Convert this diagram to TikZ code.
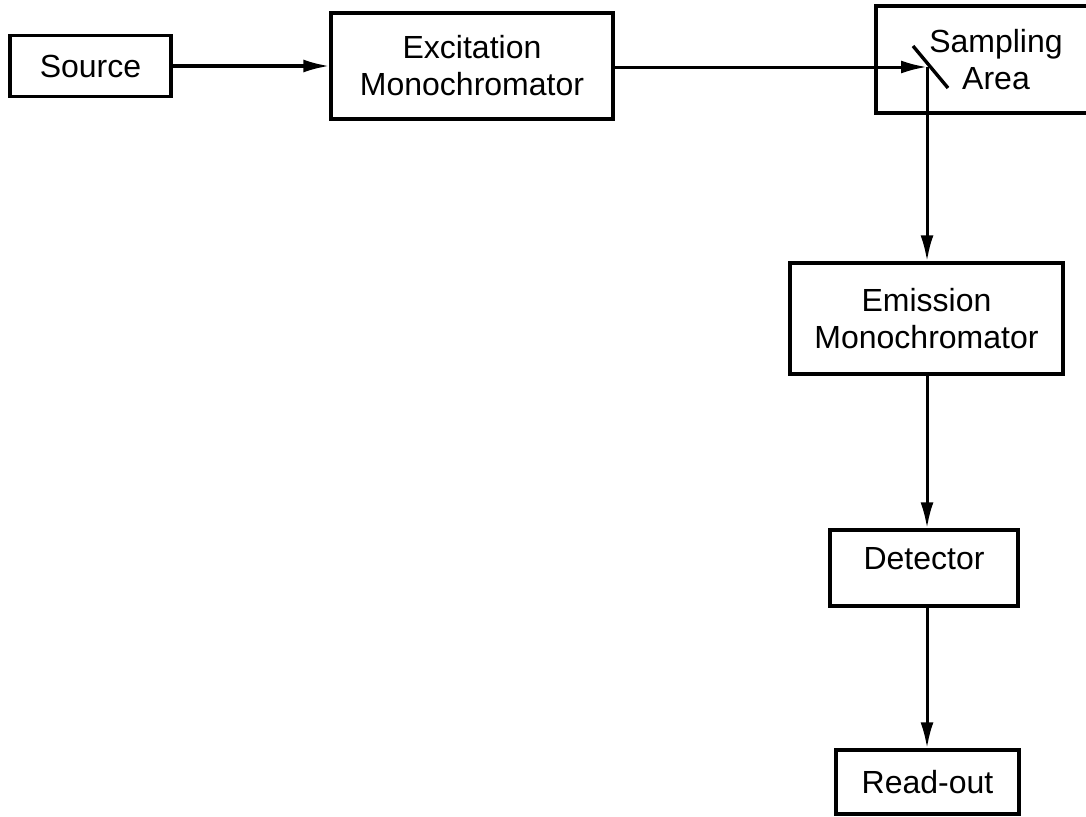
\documentclass[tikz,border=0pt]{standalone}
\usepackage{fontspec}
\setmainfont{Liberation Sans}
\usetikzlibrary{arrows.meta, positioning}

\begin{document}
\begin{tikzpicture}
    [
        x=1pt, y=-1pt,
        unit/.style={
            draw, rectangle, line width=3.4pt, inner sep=0pt,
            align=center, font=\fontsize{32}{37}\selectfont
        },
        beam/.style={
            line width=3pt,
            -{Latex[length=26pt,width=13pt]}
        }
    ]
\useasboundingbox (0,0) rectangle (1086,816);

% Nodes
\node (source) [
        unit, minimum width=161pt, minimum height=61pt
    ] at (90.5,66) {Source};

\node (excitation) [
        unit, minimum width=282pt, minimum height=106pt
    ] at (472,66) {Excitation\\Monochromator};

\node (sampling) [
        unit, minimum width=240pt, minimum height=107pt
    ] at (996,59.5) {Sampling\\Area};

\node (emission) [
        unit, minimum width=273pt, minimum height=111pt
    ] at (926.5,318.5) {Emission\\Monochromator};

\node (detector) [
        unit, minimum width=188pt, minimum height=76pt,
        text height=23pt, text depth=20pt
    ] at (924,568) {Detector};

\node (readout) [
        unit, minimum width=183pt, minimum height=64pt
    ] at (927.5,782) {Read-out};

% Mirror in the sampling area
\coordinate (hit) at (927,67);
\draw[line width=3.4pt] (913,46) -- (948,88);

% Light path
\draw[beam] (source) -- (excitation);
\draw[beam] (excitation.east |- hit) -- (hit);
\draw[beam] (hit) -- (hit |- emission.north);
\draw[beam] (hit |- emission.south) -- (hit |- detector.north);
\draw[beam] (hit |- detector.south) -- (hit |- readout.north);

\end{tikzpicture}
\end{document}
